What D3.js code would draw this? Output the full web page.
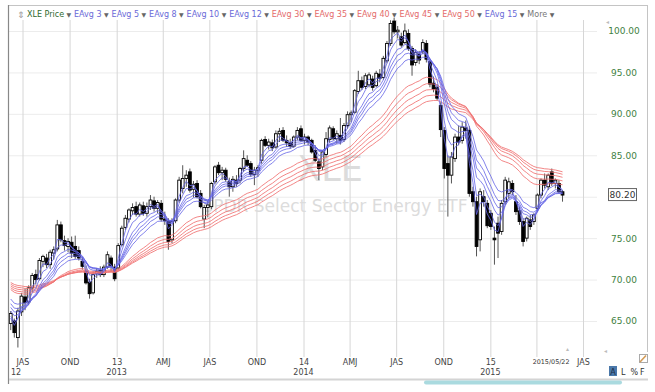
<!DOCTYPE html>
<html>
<head>
<meta charset="utf-8">
<script src="https://cdn.jsdelivr.net/npm/d3@7"></script>
<style>
  body { margin: 0; background: #fff; }
  svg { display: block; font-family: "DejaVu Sans", Verdana, sans-serif; }
</style>
</head>
<body>
<script>
// WEEKLY BARS, FIRST ONE FRIDAY 2012-06-08, LAST ONE 2015-05-22
const dates = d3.timeFriday.range(new Date(2012, 5, 8), new Date(2015, 4, 23));

const opens = [64.7,65.0,63.0,66.1,67.9,67.3,69.0,70.6,70.1,72.2,72.6,71.8,73.2,73.7,76.6,74.7,74.0,74.5,74.0,73.5,
  72.2,71.0,69.7,68.4,70.7,71.1,70.6,71.5,72.6,71.5,71.4,74.2,76.3,77.3,78.3,78.8,77.9,78.9,78.0,78.8,
  79.5,78.6,79.2,77.3,77.0,74.8,77.1,79.6,81.0,82.2,83.0,80.9,81.6,80.4,77.3,78.7,78.8,81.8,83.8,82.9,
  83.2,81.8,81.2,82.0,82.0,83.4,84.4,84.0,82.7,83.2,84.4,86.9,86.2,86.5,86.0,87.6,88.0,86.8,86.5,86.1,
  87.2,88.2,86.8,87.2,86.8,85.6,84.2,83.6,85.1,86.9,88.2,87.0,87.4,86.9,88.6,89.9,90.2,92.7,94.0,93.3,
  93.5,94.2,93.4,94.8,94.4,96.4,98.5,101.2,99.9,99.3,98.6,99.7,97.9,96.2,97.2,97.5,98.5,96.3,93.7,93.2,
  91.0,88.0,84.0,82.6,84.6,87.2,86.8,88.3,88.0,80.6,79.4,74.8,80.0,79.2,78.0,75.0,76.8,75.8,79.4,80.4,
  81.6,79.4,78.3,77.0,75.0,77.2,77.0,78.6,80.2,82.0,81.2,83.0,81.6,81.6,80.6];
const highs = [66.2,65.3,66.6,68.4,68.9,69.3,70.8,71.2,72.6,73.0,73.1,73.6,74.0,77.2,77.0,75.3,75.0,75.2,75.3,74.0,
  72.7,71.7,70.1,71.0,71.4,71.6,71.8,73.4,72.9,71.9,74.4,76.5,77.8,78.6,79.2,79.4,79.3,79.4,79.3,80.2,
  80.0,79.6,79.6,78.2,77.4,77.4,79.8,82.4,83.8,83.2,83.4,81.9,82.0,80.8,79.0,79.5,81.8,83.8,84.2,83.6,
  83.5,82.3,82.5,82.6,83.6,85.6,85.0,84.3,83.6,83.8,87.0,87.3,87.0,86.9,88.0,88.3,88.4,87.4,87.0,87.4,
  88.4,88.6,87.6,87.4,87.0,86.2,84.6,85.6,87.8,88.6,88.5,88.0,89.5,88.9,90.3,90.4,93.0,95.2,94.5,94.9,
  95.0,94.6,95.2,95.4,97.0,98.8,101.3,101.6,100.6,99.8,100.9,100.2,98.2,97.8,97.6,99.0,98.9,96.6,94.5,93.6,
  91.4,88.4,85.0,85.4,87.6,88.6,89.0,89.2,88.5,81.2,80.0,81.0,80.8,79.6,78.4,76.4,77.6,79.6,82.4,82.3,
  82.0,80.2,78.8,77.4,77.6,77.8,78.0,80.4,82.2,82.8,82.8,83.4,82.2,82.0,80.8];
const lows = [63.9,63.0,61.8,65.6,66.3,66.9,68.5,69.4,69.9,71.5,71.4,71.3,72.4,73.4,74.5,73.5,73.3,72.6,72.5,72.3,
  71.2,69.4,67.7,68.2,70.2,70.3,70.3,71.3,71.0,69.8,71.2,74.0,76.0,76.9,77.8,77.6,77.6,77.7,77.6,78.4,
  78.2,78.0,77.0,76.6,73.6,74.4,76.8,79.3,80.4,81.2,80.5,79.9,79.8,78.6,76.2,77.5,78.5,81.5,82.6,82.0,
  81.8,80.0,80.6,81.2,81.6,83.0,83.6,82.4,81.4,82.4,84.0,86.0,85.7,85.5,85.8,86.6,86.6,86.0,85.8,85.9,
  86.8,86.6,86.3,86.2,85.2,84.2,82.0,83.2,84.8,86.5,86.8,86.4,86.3,86.6,88.2,89.0,90.0,92.4,92.9,93.0,
  93.2,92.8,93.2,93.8,94.1,96.1,98.2,99.6,99.1,98.0,98.4,97.6,94.6,95.8,96.0,97.2,96.2,93.2,92.6,91.6,
  87.2,82.2,77.6,81.6,84.2,86.2,86.4,87.0,80.0,78.8,72.8,73.4,78.8,76.2,76.0,71.8,72.6,75.4,79.0,79.8,
  80.2,77.8,76.6,74.0,74.6,76.0,76.6,78.2,79.8,81.0,80.8,81.3,81.0,80.4,79.4];
const closes = [65.9,63.6,66.2,68.0,67.2,69.0,70.5,70.0,72.3,72.8,71.8,73.3,73.6,76.6,74.8,74.1,74.6,73.2,72.8,72.6,
  71.6,69.6,68.3,70.6,71.0,70.6,71.5,73.0,71.6,70.1,74.1,76.2,77.4,78.4,78.7,77.9,79.0,78.0,78.8,79.6,
  78.6,79.3,77.3,77.1,74.6,77.0,79.6,82.0,82.2,82.6,80.8,81.5,80.0,78.8,78.7,79.0,81.6,83.6,82.9,83.2,
  82.1,81.2,82.1,81.6,83.4,84.6,83.8,82.7,83.2,83.5,86.8,86.2,86.6,85.9,87.6,87.9,86.8,86.5,86.1,87.2,
  88.0,86.8,87.2,86.6,85.4,84.4,83.4,85.4,87.0,88.3,87.0,87.6,86.8,88.6,89.9,90.1,92.8,94.0,93.2,94.6,
  94.7,93.2,94.9,94.3,96.7,98.5,100.9,99.9,100.1,98.3,100.0,97.9,95.9,97.4,96.5,98.6,96.6,93.6,93.0,91.9,
  88.1,83.4,82.6,84.8,87.2,86.6,88.4,88.0,80.4,79.4,74.0,80.6,79.4,76.5,76.4,74.8,75.6,79.2,82.0,81.8,
  80.6,78.2,77.0,74.6,77.4,76.4,77.8,80.2,82.0,81.4,82.6,81.6,82.0,80.6,80.2];

// EXPONENTIAL AVERAGES (WEEKS) AND THEIR VALUE JUST LEFT OF THE FIRST BAR
const blueSpans = [3, 5, 8, 10, 12, 15];
const blueStart = [64.8, 65.4, 66.3, 66.8, 67.3, 67.9];
const redSpans = [30, 35, 40, 45, 50];
const redStart = [69.0, 69.2, 69.4, 69.6, 69.8];

// AXES
const yTicks = [65, 70, 75, 80, 85, 90, 95, 100];
const quarterTicks = d3.timeMonth.every(3).range(new Date(2012, 6, 1), new Date(2015, 7, 1));
const quarterLabels = ["JAS","OND","13","AMJ","JAS","OND","14","AMJ","JAS","OND","15","","JAS"];
const yearLabels = ["","","2013","","","","2014","","","","2015","",""];
const firstYearLabel = "12";
const lastDateLabel = "2015/05/22";
const lastPrice = 80.20;

// LEGEND
const legendItems = ["XLE Price","EAvg 3","EAvg 5","EAvg 8","EAvg 10","EAvg 12",
  "EAvg 30","EAvg 35","EAvg 40","EAvg 45","EAvg 50","EAvg 15","More"];

// COLOURS
const blueLine = "#6464e6";
const redLine = "#f07272";
const greenText = "#3f7f3f";

// CREATE SVG
const W = 655, H = 392;
const plot = {left: 8, right: 597, top: 20, bottom: 357};
const svg = d3.select("body").append("svg").attr("width", W).attr("height", H);

const x = d3.scaleTime()
  .domain([new Date(2012, 6, 1), new Date(2015, 6, 1)])
  .range([22.5, 583]);
const y = d3.scaleLinear().domain([65, 100]).range([321, 31]);

svg.append("clipPath").attr("id", "clip")
  .append("rect")
  .attr("x", plot.left).attr("y", plot.top - 6)
  .attr("width", plot.right - plot.left).attr("height", 340);

// HORIZONTAL GRID + PRICE LABELS (the label next to the last price box is hidden)
const yAxis = svg.append("g")
  .attr("transform", `translate(${plot.right},0)`)
  .call(d3.axisRight(y).tickValues(yTicks).tickSize(-(plot.right - plot.left))
    .tickFormat(d => Math.abs(d - lastPrice) < 2 ? "" : d3.format(".2f")(d)));
yAxis.select(".domain").remove();
yAxis.selectAll("line").attr("stroke", "#ececec");
yAxis.selectAll("text")
  .attr("x", 27).attr("text-anchor", "middle")
  .attr("fill", greenText).style("font-size", "9px")
  .style("font-family", "'DejaVu Sans', Verdana, sans-serif");

// VERTICAL GRID + QUARTER LABELS
const xAxis = svg.append("g")
  .attr("transform", `translate(0,${plot.bottom})`)
  .call(d3.axisBottom(x).tickValues(quarterTicks)
    .tickSize(-(plot.bottom - plot.top)).tickPadding(2)
    .tickFormat((d, i) => quarterLabels[i]));
xAxis.select(".domain").remove();
xAxis.selectAll("line").attr("stroke", "#d6d6d6");
xAxis.selectAll("text")
  .attr("fill", "#444").style("font-size", "8px")
  .style("font-family", "'DejaVu Sans', Verdana, sans-serif");

svg.append("g").selectAll("text")
  .data(quarterTicks)
  .join("text")
  .attr("x", d => x(d)).attr("y", 375)
  .attr("text-anchor", "middle")
  .attr("fill", "#444").style("font-size", "8px")
  .text((d, i) => yearLabels[i]);
svg.append("text")
  .attr("x", 11).attr("y", 375)
  .attr("fill", "#444").style("font-size", "8px")
  .text(firstYearLabel);

// WATERMARK
svg.append("text")
  .attr("x", 330).attr("y", 181)
  .attr("text-anchor", "middle")
  .attr("fill", "#dcdcdc").style("font-size", "35px")
  .text("XLE");
svg.append("text")
  .attr("x", 335).attr("y", 212)
  .attr("text-anchor", "middle")
  .attr("fill", "#dcdcdc").style("font-size", "17px")
  .text("SPDR Select Sector Energy ETF");

// CANDLES
const chart = svg.append("g").attr("clip-path", "url(#clip)");
const bars = chart.append("g").selectAll("g")
  .data(closes)
  .join("g");
bars.append("line")
  .attr("x1", (d, i) => x(dates[i])).attr("x2", (d, i) => x(dates[i]))
  .attr("y1", (d, i) => y(highs[i])).attr("y2", (d, i) => y(lows[i]))
  .attr("stroke", "#555").attr("stroke-width", 1);
bars.append("rect")
  .attr("x", (d, i) => x(dates[i]) - 1.4)
  .attr("width", 2.8)
  .attr("y", (d, i) => y(Math.max(opens[i], d)))
  .attr("height", (d, i) => Math.max(1, Math.abs(y(opens[i]) - y(d))))
  .attr("fill", (d, i) => d >= opens[i] ? "#fff" : "#000")
  .attr("stroke", "#000").attr("stroke-width", 0.9);

// EXPONENTIAL AVERAGES
function ema(span, seed) {
  const a = 2 / (span + 1);
  let e = seed;
  return closes.map(c => (e = e + a * (c - e)));
}
const line = d3.line()
  .x((d, i) => x(dates[i]))
  .y(d => y(d))
  .curve(d3.curveLinear);

redSpans.forEach((s, k) => {
  chart.append("path")
    .datum(ema(s, redStart[k]))
    .attr("fill", "none").attr("stroke", redLine)
    .attr("stroke-width", 1).attr("opacity", 0.85)
    .attr("d", line);
});
blueSpans.forEach((s, k) => {
  chart.append("path")
    .datum(ema(s, blueStart[k]))
    .attr("fill", "none").attr("stroke", blueLine)
    .attr("stroke-width", 1).attr("opacity", 0.8)
    .attr("d", line);
});

// LAST PRICE BOX
const py = y(lastPrice);
svg.append("rect")
  .attr("x", 608.5).attr("y", py - 6.5)
  .attr("width", 28).attr("height", 12)
  .attr("fill", "#fff").attr("stroke", "#666");
svg.append("text")
  .attr("x", 622.5).attr("y", py + 3)
  .attr("text-anchor", "middle")
  .attr("fill", "#333").style("font-size", "9px")
  .text(lastPrice.toFixed(2));

// LAST DATE LABEL
svg.append("text")
  .attr("x", x(dates[dates.length - 1]) + 7).attr("y", 364)
  .attr("text-anchor", "end")
  .attr("fill", "#333").style("font-size", "6.4px")
  .text(lastDateLabel);

// FRAME
svg.append("line").attr("x1", 8).attr("x2", 648).attr("y1", 5.5).attr("y2", 5.5)
  .attr("stroke", "#c4c4c4");
svg.append("line").attr("x1", 8.5).attr("x2", 8.5).attr("y1", 5).attr("y2", 384)
  .attr("stroke", "#888").attr("stroke-width", 1.2);
svg.append("line").attr("x1", 647.5).attr("x2", 647.5).attr("y1", 5).attr("y2", 352)
  .attr("stroke", "#c4c4c4");
svg.append("line").attr("x1", 9).attr("x2", 648).attr("y1", 379.5).attr("y2", 379.5)
  .attr("stroke", "#d4d4d4").attr("stroke-width", 2);
svg.append("rect")
  .attr("x", 424).attr("y", 380.5).attr("width", 198).attr("height", 4).attr("rx", 2)
  .attr("fill", "#aadadf");

// SMALL MARKERS
svg.append("text").attr("x", 606).attr("y", 24).attr("fill", "#bbb")
  .style("font-size", "6px").text("◂");
svg.append("text").attr("x", 604).attr("y", 353).attr("fill", "#bbb")
  .style("font-size", "6px").text("◂");
svg.append("text").attr("x", 566).attr("y", 351).attr("fill", "#bbb")
  .style("font-size", "6px").text("▴");

// A L % F
svg.append("rect").attr("x", 609).attr("y", 366).attr("width", 8).attr("height", 10)
  .attr("fill", "#4a78aa");
svg.append("text").attr("x", 613).attr("y", 374.5).attr("text-anchor", "middle")
  .attr("fill", "#1c2c44").style("font-size", "8px").text("A");
["L", "%", "F"].forEach((t, i) => {
  svg.append("text").attr("x", 621 + i * 9.5).attr("y", 374.5)
    .attr("fill", "#333").style("font-size", "8px").text(t);
});
// pencil
svg.append("rect").attr("x", 639.5).attr("y", 354.5).attr("width", 8).attr("height", 8)
  .attr("fill", "none").attr("stroke", "#aaa");
svg.append("line").attr("x1", 640).attr("y1", 362).attr("x2", 646).attr("y2", 355.5)
  .attr("stroke", "#d39a55").attr("stroke-width", 1.6);

// LEGEND
const legend = svg.append("g");
legend.append("text").attr("x", 17).attr("y", 17.5)
  .attr("fill", "#999").style("font-size", "9px").text("⇕");
let lx = 27;
legendItems.forEach(name => {
  const n = +name.replace(/\D/g, "");
  const col = name === "XLE Price" ? "#2f6a2f"
    : name === "More" ? "#777"
    : blueSpans.includes(n) ? "#6a6ad8" : "#e46a6a";
  const t = legend.append("text")
    .attr("x", lx).attr("y", 17)
    .attr("fill", col).style("font-size", "8px")
    .text(name);
  const w = t.node().getComputedTextLength();
  legend.append("text")
    .attr("x", lx + w + 2.5).attr("y", 16.5)
    .attr("fill", "#666").style("font-size", "6px")
    .text("▼");
  lx += w + 10;
});
</script>
</body>
</html>
